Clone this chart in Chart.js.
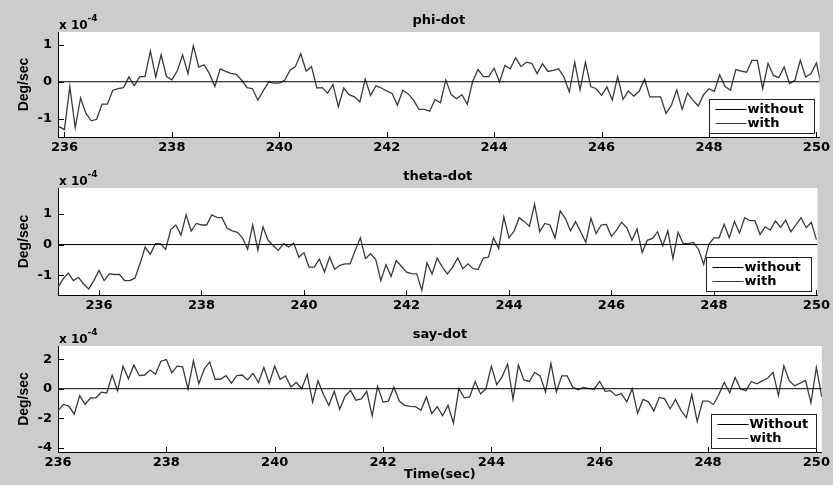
<!DOCTYPE html>
<html>
<head>
<meta charset="utf-8">
<script src="https://cdn.jsdelivr.net/npm/chart.js@4.4.1/dist/chart.umd.min.js"></script>
<style>
  body { margin: 0; background: #cccccc; }
  #fig { position: relative; width: 833px; height: 485px; background: #cccccc; overflow: hidden; }
  canvas { position: absolute; left: 0; }
</style>
</head>
<body>
<div id="fig">
  <canvas id="chartPhi" width="833" height="167" style="top:0px"></canvas>
  <canvas id="chartTheta" width="833" height="169" style="top:156px"></canvas>
  <canvas id="chartSay" width="833" height="171" style="top:314px"></canvas>
</div>
<script>
// sampling step of the recorded signals (sec)
const sampleStep = 0.1;
const xTickValues = [236, 238, 240, 242, 244, 246, 248, 250];
const withoutLevel = 0;

// phi-dot (x 1e-4 deg/sec), first sample at 235.9 s
const phiStart = 235.9;
const phiWith = [
  -1.22,
  -1.30, -0.13, -1.25, -0.44, -0.86, -1.06, -1.02, -0.61, -0.61, -0.23,
  -0.19, -0.16, 0.13, -0.11, 0.14, 0.14, 0.83, 0.13, 0.73, 0.14,
  0.05, 0.29, 0.73, 0.22, 0.98, 0.40, 0.46, 0.22, -0.13, 0.35,
  0.28, 0.23, 0.20, 0.04, -0.16, -0.19, -0.50, -0.25, -0.01, -0.04,
  -0.04, 0.04, 0.31, 0.41, 0.76, 0.29, 0.41, -0.17, -0.16, -0.31,
  -0.08, -0.68, -0.17, -0.35, -0.41, -0.55, 0.07, -0.37, -0.11, -0.17,
  -0.25, -0.32, -0.64, -0.23, -0.33, -0.50, -0.75, -0.75, -0.80, -0.48,
  -0.57, 0.05, -0.35, -0.46, -0.35, -0.61, 0.01, 0.33, 0.14, 0.14,
  0.37, -0.01, 0.44, 0.35, 0.65, 0.41, 0.53, 0.50, 0.22, 0.49,
  0.28, 0.31, 0.35, 0.13, -0.28, 0.53, -0.22, 0.53, -0.13, -0.19,
  -0.37, -0.14, -0.50, 0.14, -0.48, -0.25, -0.39, -0.26, 0.07, -0.41,
  -0.41, -0.41, -0.86, -0.64, -0.22, -0.75, -0.31, -0.50, -0.66, -0.35,
  -0.19, -0.26, 0.19, -0.13, -0.23, 0.33, 0.29, 0.26, 0.58, 0.58,
  -0.19, 0.50, 0.17, 0.11, 0.40, -0.05, 0.04, 0.58, 0.13, 0.22,
  0.51, -0.16
];
const phiXRange = [235.88, 250.06];
const phiYRange = [-1.5, 1.35];
const phiYTicks = [-1, 0, 1];

// theta-dot, first sample at 235.2 s
const thetaStart = 235.2;
const thetaWith = [
  -1.40, -1.12, -0.93, -1.18, -1.07, -1.29, -1.45, -1.18,
  -0.85, -1.18, -0.96, -0.98, -0.98, -1.18, -1.18, -1.10, -0.63, -0.08,
  -0.32, 0.03, 0.03, -0.16, 0.49, 0.64, 0.31, 0.97, 0.44, 0.69,
  0.64, 0.64, 0.97, 0.89, 0.88, 0.53, 0.45, 0.40, 0.22, -0.15,
  0.64, -0.19, 0.58, 0.14, -0.04, -0.19, 0.03, -0.08, 0.05, -0.41,
  -0.27, -0.74, -0.74, -0.48, -0.90, -0.41, -0.81, -0.68, -0.63, -0.63,
  -0.19, 0.22, -0.46, -0.30, -0.48, -1.18, -0.66, -1.04, -0.52, -0.71,
  -0.90, -0.95, -0.96, -1.50, -0.60, -0.96, -0.44, -0.74, -0.96, -0.74,
  -0.44, -0.79, -0.63, -0.79, -0.81, -0.44, -0.41, 0.22, -0.13, 0.91,
  0.22, 0.44, 0.88, 0.75, 0.60, 1.32, 0.42, 0.69, 0.64, 0.22,
  1.10, 0.86, 0.45, 0.75, 0.42, 0.07, 0.86, 0.36, 0.64, 0.66,
  0.27, 0.47, 0.73, 0.55, 0.14, 0.51, -0.26, 0.14, 0.20, 0.42,
  -0.04, 0.45, -0.46, 0.40, 0.03, 0.03, 0.07, -0.16, -0.65, 0.01,
  0.22, 0.22, 0.66, 0.22, 0.75, 0.38, 0.88, 0.78, 0.78, 0.33,
  0.58, 0.47, 0.77, 0.56, 0.80, 0.42, 0.64, 0.88, 0.55, 0.73,
  0.16
];
const thetaXRange = [235.2, 250.02];
const thetaYRange = [-1.65, 1.85];
const thetaYTicks = [-1, 0, 1];

// say-dot, first sample at 236.0 s
const sayStart = 236.0;
const sayWith = [
  -1.51, -1.07, -1.18, -1.73, -0.47, -1.07, -0.62, -0.62, -0.24, -0.29,
  0.93, -0.13, 1.53, 0.67, 1.60, 0.89, 0.93, 1.27, 0.98, 1.87,
  1.98, 1.09, 1.53, 1.49, -0.02, 1.89, 0.33, 1.33, 1.82, 0.64,
  0.64, 0.89, 0.38, 0.89, 0.93, 0.60, 1.04, 0.42, 1.44, 0.38,
  1.53, 0.64, 0.87, 0.11, 0.42, 0.00, 0.98, -0.91, 0.53, -0.40,
  -1.13, -0.18, -1.40, -0.51, -0.11, -0.78, -0.69, -0.18, -1.84, 0.16,
  -0.91, -0.84, 0.11, -0.84, -1.13, -1.20, -1.22, -1.47, -0.56, -1.69,
  -1.22, -1.84, -1.13, -2.33, 0.00, -0.62, -0.56, 0.49, -0.36, 0.00,
  1.53, 0.27, 0.82, 1.67, -0.73, 1.60, 0.60, 0.49, 1.11, 0.87,
  -0.22, 1.71, -0.22, 0.87, 0.87, 0.11, -0.07, 0.09, 0.00, -0.02,
  0.49, -0.18, -0.13, -0.47, -0.33, -0.89, 0.00, -1.67, -0.73, -0.89,
  -1.51, -0.58, -0.69, -1.36, -0.73, -1.47, -1.96, -0.40, -2.24, -0.84,
  -0.84, -1.07, -0.40, 0.44, -0.29, 0.76, -0.02, -0.13, 0.49, 0.33,
  0.53, 0.71, 1.11, -0.47, 1.56, 0.53, 0.20, 0.38, 0.56, -0.96,
  1.44, -0.56
];
const sayXRange = [236.0, 250.1];
const sayYRange = [-4.3, 2.9];
const sayYTicks = [-4, -2, 0, 2];

const fontFamily = '"DejaVu Sans", sans-serif';
Chart.defaults.font.family = fontFamily;
Chart.defaults.font.size = 13;
Chart.defaults.font.weight = 'bold';
Chart.defaults.color = '#000';

// matlab-like decorations: white axes, inner ticks, title, exponent, legend
const matlabDecor = {
  id: 'matlabDecor',
  beforeDraw(chart) {
    const {ctx, chartArea: a} = chart;
    ctx.save();
    ctx.fillStyle = '#ffffff';
    ctx.fillRect(a.left, a.top, a.right - a.left, a.bottom - a.top);
    ctx.restore();
  },
  afterDraw(chart, args, opts) {
    const {ctx, chartArea: a, scales} = chart;
    ctx.save();

    // inner tick marks
    ctx.strokeStyle = '#000';
    ctx.lineWidth = 1;
    ctx.beginPath();
    scales.x.ticks.forEach(t => {
      const px = Math.round(scales.x.getPixelForValue(t.value)) + 0.5;
      ctx.moveTo(px, a.bottom);
      ctx.lineTo(px, a.bottom - 5);
    });
    scales.y.ticks.forEach(t => {
      const py = Math.round(scales.y.getPixelForValue(t.value)) + 0.5;
      ctx.moveTo(a.left, py);
      ctx.lineTo(a.left + 6, py);
    });
    ctx.stroke();

    ctx.fillStyle = '#000';

    // title
    ctx.font = 'bold 13px ' + fontFamily;
    ctx.textAlign = 'center';
    ctx.textBaseline = 'alphabetic';
    ctx.fillText(opts.title, (a.left + a.right) / 2, a.top - 8);

    // exponent label
    ctx.textAlign = 'left';
    ctx.font = 'bold 12px ' + fontFamily;
    ctx.fillText('x 10', a.left + 1, a.top - 3);
    const w = ctx.measureText('x 10').width;
    ctx.font = 'bold 9px ' + fontFamily;
    ctx.fillText('-4', a.left + 1 + w, a.top - 11);

    // y label
    ctx.save();
    ctx.translate(24, (a.top + a.bottom) / 2);
    ctx.rotate(-Math.PI / 2);
    ctx.font = 'bold 14px "Liberation Sans", Arial, sans-serif';
    ctx.textAlign = 'center';
    ctx.textBaseline = 'middle';
    ctx.fillText('Deg/sec', 0, 0);
    ctx.restore();

    // legend box inside the axes, bottom right
    const bw = 105, bh = 34;
    const bx = Math.round(a.right - 6 - bw) + 0.5;
    const by = Math.round(a.bottom - 4 - bh) + 0.5;
    ctx.fillStyle = '#ffffff';
    ctx.fillRect(bx, by, bw, bh);
    ctx.strokeStyle = '#222';
    ctx.strokeRect(bx, by, bw, bh);
    ctx.font = 'bold 13px ' + fontFamily;
    ctx.textBaseline = 'middle';
    chart.data.datasets.forEach((ds, i) => {
      const ry = Math.round(by + 9 + i * 14) + 0.5;
      ctx.strokeStyle = ds.borderColor;
      ctx.lineWidth = 1;
      ctx.beginPath();
      ctx.moveTo(bx + 6, ry);
      ctx.lineTo(bx + 37, ry);
      ctx.stroke();
      ctx.fillStyle = '#000';
      ctx.fillText(ds.label, bx + 38, ry);
    });

    // x label
    if (opts.xTitle) {
      ctx.textAlign = 'center';
      ctx.textBaseline = 'middle';
      ctx.fillText(opts.xTitle, (a.left + a.right) / 2, a.bottom + 23);
    }
    ctx.restore();
  }
};

const makeAxesChart = (canvasId, cfg) => {
  const withPoints = cfg.values.map((v, i) => ({
    x: +(cfg.start + i * sampleStep).toFixed(2),
    y: v
  }));
  const withoutPoints = [
    {x: cfg.xRange[0], y: withoutLevel},
    {x: cfg.xRange[1], y: withoutLevel}
  ];

  return new Chart(document.getElementById(canvasId), {
    type: 'line',
    data: {
      datasets: [
        {
          label: cfg.labels[0],
          data: withoutPoints,
          borderColor: '#000000',
          borderWidth: 1,
          pointRadius: 0
        },
        {
          label: cfg.labels[1],
          data: withPoints,
          borderColor: '#3a3a3a',
          borderWidth: 1.3,
          pointRadius: 0
        }
      ]
    },
    options: {
      responsive: false,
      animation: false,
      devicePixelRatio: 1,
      layout: { padding: { top: 32, right: 8, left: 0, bottom: 0 } },
      plugins: {
        legend: { display: false },
        tooltip: { enabled: false },
        matlabDecor: { title: cfg.title, xTitle: cfg.xTitle }
      },
      scales: {
        x: {
          type: 'linear',
          min: cfg.xRange[0],
          max: cfg.xRange[1],
          grid: { display: false, drawTicks: false },
          border: { display: true, color: '#000', width: 1 },
          ticks: { padding: 3, color: '#000', maxRotation: 0 },
          afterBuildTicks: s => { s.ticks = xTickValues.map(v => ({ value: v })); },
          afterFit: s => { s.height = cfg.bottomSpace; }
        },
        y: {
          min: cfg.yRange[0],
          max: cfg.yRange[1],
          grid: { display: false, drawTicks: false },
          border: { display: true, color: '#000', width: 1 },
          ticks: { padding: 6, color: '#000' },
          afterBuildTicks: s => { s.ticks = cfg.yTicks.map(v => ({ value: v })); },
          afterFit: s => { s.width = 58; }
        }
      }
    },
    plugins: [matlabDecor]
  });
};

makeAxesChart('chartPhi', {
  title: 'phi-dot', start: phiStart, values: phiWith,
  xRange: phiXRange, yRange: phiYRange, yTicks: phiYTicks,
  labels: ['without', 'with'], bottomSpace: 30
});

makeAxesChart('chartTheta', {
  title: 'theta-dot', start: thetaStart, values: thetaWith,
  xRange: thetaXRange, yRange: thetaYRange, yTicks: thetaYTicks,
  labels: ['without', 'with'], bottomSpace: 30
});

makeAxesChart('chartSay', {
  title: 'say-dot', start: sayStart, values: sayWith,
  xRange: sayXRange, yRange: sayYRange, yTicks: sayYTicks,
  labels: ['Without', 'with'], bottomSpace: 33, xTitle: 'Time(sec)'
});
</script>
</body>
</html>
